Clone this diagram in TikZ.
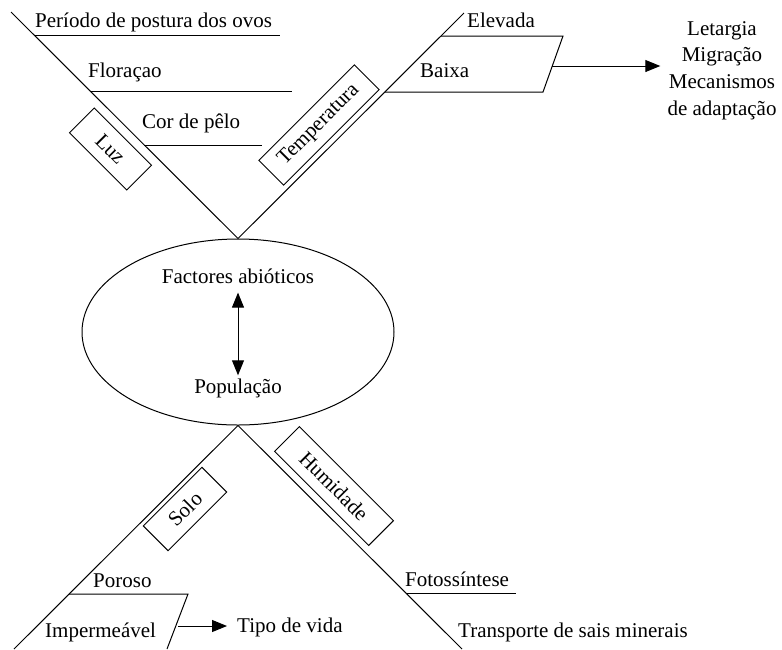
\documentclass[tikz,border=0pt]{standalone}
\usepackage{fontspec}
\setmainfont{Liberation Serif}
\usetikzlibrary{arrows.meta,shapes.geometric}

\begin{document}
\begin{tikzpicture}[
    x=1pt, y=-1pt,
    every node/.style={font=\fontsize{21}{26.7}\selectfont, inner sep=0pt},
    % Styles
    branch/.style={line width=1pt},
    item/.style={anchor=base west},
    tag/.style={draw, line width=1pt, minimum height=35pt, inner sep=0pt},
    effect/.style={line width=1pt, -{Triangle[length=15pt, width=12pt]}},
    pair/.style={line width=1pt, {Triangle[length=15pt, width=12pt]}-{Triangle[length=15pt, width=12pt]}},
]
\useasboundingbox (0,0) rectangle (782,649);

% Centre: factors and population
\node[draw, ellipse, line width=1pt, minimum width=312pt, minimum height=186pt] (core) at (238,332) {};
\node (abio) at (238,276) {Factores abióticos};
\node (pop) at (238,388) {População};
\draw[pair] ([yshift=-9pt]abio.south) -- ([yshift=3pt]pop.north);

% Branch ends
\coordinate (luz-end) at (11,12);
\coordinate (temp-end) at (464,13);
\coordinate (solo-end) at (14,649);
\coordinate (hum-end) at (462,649);

\draw[branch] (luz-end) -- (core.north) -- (temp-end);
\draw[branch] (solo-end) -- (core.south) -- (hum-end);

% Luz
\node[tag, minimum width=81pt, rotate=-45] (luz) at (110.5,149) {Luz};
\node[item] (ovos) at (35,27) {Período de postura dos ovos};
\node[item] (flor) at (88,77) {Floraçao};
\node[item] (pelo) at (142,128) {Cor de pêlo};
\draw[branch] (34.7,35.7) -- (280,35.7);
\draw[branch] (90.7,91.7) -- (291.7,91.7);
\draw[branch] (144,145) -- (261.7,145);

% Temperatura
\node[tag, minimum width=135pt, rotate=45] (temp) at (319,125) {Temperatura};
\node[item] (alta) at (467,27) {Elevada};
\node[item] (baixa) at (420,77) {Baixa};
\draw[branch] (441,36) -- (563,36) -- (543,92) -- (385,92);
\coordinate (baixa-out) at (552.3,66);
\node[align=center, inner xsep=7pt] (efeitos) at (722,70.5) {Letargia\\Migração\\Mecanismos\\de adaptação};
\draw[effect] (baixa-out) -- (baixa-out -| efeitos.west);

% Solo
\node[tag, minimum width=83pt, rotate=45] (solo) at (185,509) {Solo};
\node[item] (poroso) at (93,587) {Poroso};
\node[item] (imper) at (45,637) {Impermeável};
\draw[branch] (69,594) -- (188,594) -- (167,649);
\coordinate (imper-out) at (178,626);
\node[item] (vida) at (237,632) {Tipo de vida};
\draw[effect] (imper-out) -- ([xshift=-10pt]vida.west |- imper-out);

% Humidade
\node[tag, minimum width=133pt, rotate=-45] (hum) at (334,486) {Humidade};
\node[item] (foto) at (405,586) {Fotossíntese};
\node[item] (sais) at (458,637) {Transporte de sais minerais};
\draw[branch] (406,593) -- (516,593);

\end{tikzpicture}
\end{document}
